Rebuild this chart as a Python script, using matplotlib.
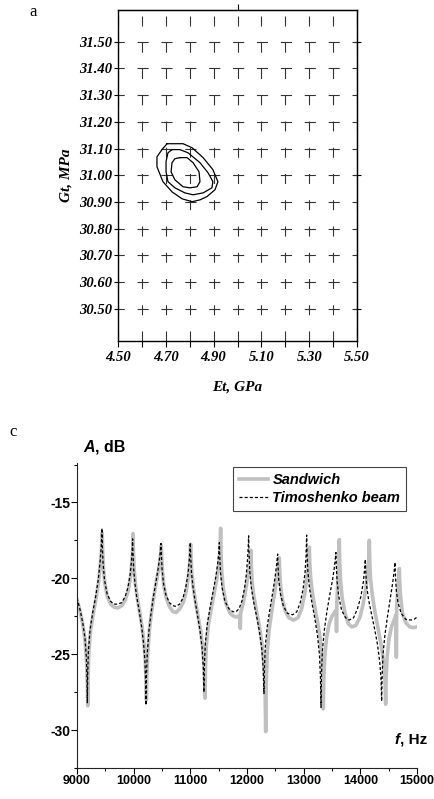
import numpy as np
import matplotlib.pyplot as plt
from matplotlib import font_manager

plt.rcParams['lines.scale_dashes'] = False

# narrow sans for the spectrum panel, if the system has it
noms = {f.name for f in font_manager.fontManager.ttflist}
sans = 'Liberation Sans Narrow' if 'Liberation Sans Narrow' in noms else 'Liberation Sans'
serif = 'Liberation Serif'

# ---- panel a: confidence contours in the (Et, Gt) plane ----
et_ticks = [4.50, 4.70, 4.90, 5.10, 5.30, 5.50]
et_minor = [4.60, 4.80, 5.00, 5.20, 5.40]
gt_ticks = [30.50, 30.60, 30.70, 30.80, 30.90, 31.00, 31.10, 31.20, 31.30, 31.40, 31.50]

ext_et = [4.705, 4.772, 4.810, 4.856, 4.897, 4.918, 4.906, 4.872, 4.843, 4.810,
          4.768, 4.726, 4.688, 4.663, 4.663, 4.684]
ext_gt = [31.118, 31.118, 31.103, 31.066, 31.021, 30.976, 30.946, 30.920, 30.908, 30.901,
          30.912, 30.938, 30.976, 31.032, 31.069, 31.096]

mig_et = [4.726, 4.759, 4.793, 4.843, 4.877, 4.897, 4.893, 4.856, 4.814, 4.780,
          4.738, 4.709, 4.701, 4.701, 4.709]
mig_gt = [31.096, 31.096, 31.084, 31.047, 31.009, 30.976, 30.953, 30.934, 30.927, 30.934,
          30.953, 30.976, 31.013, 31.051, 31.084]

int_et = [4.759, 4.789, 4.814, 4.839, 4.843, 4.831, 4.801, 4.772, 4.738, 4.722, 4.726, 4.738]
int_gt = [31.066, 31.066, 31.047, 31.013, 30.976, 30.957, 30.953, 30.957, 30.983, 31.013,
          31.047, 31.062]

# ---- panel c: frequency response ----
f_ticks = [9000, 10000, 11000, 12000, 13000, 14000, 15000]
A_ticks = [-30, -25, -20, -15]

f_tim = [9000, 9050, 9100, 9140, 9165, 9176, 9182,
         9188, 9200, 9230, 9280, 9330, 9375, 9405, 9425, 9435, 9441,
         9448, 9460, 9485, 9530, 9590, 9650, 9718, 9790, 9850, 9900, 9940, 9962, 9975, 9982,
         9988, 10000, 10025, 10053, 10100, 10141, 10175, 10198, 10210, 10218,
         10225, 10240, 10271, 10300, 10341, 10390, 10435, 10460, 10474, 10482,
         10489, 10500, 10525, 10570, 10630, 10690, 10747, 10810, 10870, 10920, 10960, 10982, 10993, 10999,
         11006, 11020, 11045, 11080, 11125, 11170, 11205, 11228, 11241,
         11250, 11265, 11300, 11350, 11400, 11450, 11485, 11502, 11512,
         11519, 11532, 11560, 11610, 11680, 11750, 11806, 11860, 11910, 11955, 11990, 12012, 12022, 12029,
         12036, 12050, 12080, 12120, 12170, 12220, 12260, 12285, 12300,
         12310, 12325, 12360, 12410, 12460, 12500, 12525, 12541,
         12548, 12560, 12590, 12640, 12710, 12805, 12880, 12940, 12990, 13025, 13042, 13053,
         13060, 13075, 13105, 13150, 13200, 13245, 13278, 13296, 13306,
         13315, 13330, 13365, 13410, 13460, 13510, 13545, 13570,
         13577, 13590, 13620, 13670, 13740, 13805, 13880, 13950, 14010, 14055, 14076, 14088,
         14096, 14112, 14145, 14195, 14250, 14305, 14345, 14366, 14376,
         14385, 14400, 14435, 14480, 14530, 14575, 14598, 14612,
         14620, 14635, 14665, 14720, 14800, 14894, 14950, 14985, 15000]
A_tim = [-21.3, -22.0, -22.9, -23.9, -25.2, -26.6, -28.2,
         -26.4, -24.9, -23.4, -22.2, -21.2, -20.1, -19.0, -18.1, -17.4, -16.7,
         -17.9, -19.0, -20.1, -21.0, -21.5, -21.7, -21.7, -21.6, -21.2, -20.6, -19.7, -18.8, -18.0, -17.4,
         -18.3, -19.4, -20.4, -21.2, -22.2, -23.2, -24.3, -25.4, -26.7, -28.35,
         -26.5, -25.0, -23.4, -22.5, -21.4, -20.3, -19.3, -18.6, -18.1, -17.7,
         -18.4, -19.3, -20.3, -21.1, -21.6, -21.8, -21.85, -21.7, -21.3, -20.6, -19.7, -18.8, -18.1, -17.65,
         -18.5, -19.6, -20.5, -21.4, -22.4, -23.4, -24.5, -25.8, -27.5,
         -25.6, -24.3, -23.0, -21.9, -20.9, -19.9, -19.0, -18.3, -17.65,
         -18.5, -19.6, -20.6, -21.5, -22.0, -22.2, -22.2, -22.0, -21.5, -20.7, -19.7, -18.6, -17.9, -17.2,
         -18.3, -19.6, -20.7, -21.6, -22.5, -23.5, -24.6, -25.9, -27.6,
         -25.7, -24.4, -23.1, -21.9, -20.8, -19.8, -19.0, -18.4,
         -19.2, -20.1, -21.0, -21.8, -22.3, -22.4, -22.2, -21.6, -20.7, -19.6, -18.5, -17.15,
         -18.4, -19.6, -20.7, -21.7, -22.7, -23.8, -25.0, -26.5, -28.5,
         -26.3, -24.8, -23.4, -22.2, -21.1, -20.1, -19.2, -18.3,
         -19.2, -20.2, -21.2, -22.1, -22.6, -22.75, -22.6, -22.0, -21.2, -20.2, -19.4, -18.75,
         -19.6, -20.5, -21.4, -22.3, -23.3, -24.4, -25.6, -26.7, -28.1,
         -26.4, -25.0, -23.7, -22.5, -21.3, -20.2, -19.5, -18.95,
         -19.8, -20.8, -21.6, -22.3, -22.7, -22.75, -22.7, -22.6, -22.5]

f_sand = [9000, 9050, 9100, 9140, 9168, 9182, 9190,
          9196, 9208, 9238, 9288, 9338, 9382, 9412, 9432, 9445,
          9452, 9465, 9490, 9535, 9595, 9655, 9720, 9795, 9855, 9905, 9945, 9968, 9982, 9990,
          9996, 10008, 10032, 10060, 10105, 10148, 10182, 10205, 10217, 10225,
          10232, 10247, 10278, 10306, 10347, 10396, 10441, 10466, 10480, 10488,
          10495, 10507, 10532, 10576, 10636, 10695, 10750, 10815, 10875, 10925, 10965, 10988, 10999, 11005,
          11012, 11027, 11053, 11090, 11137, 11183, 11220, 11245, 11260,
          11268, 11283, 11318, 11368, 11420, 11470, 11505, 11523, 11535,
          11542, 11555, 11582, 11632, 11700, 11765, 11810, 11855, 11876, 11882, 11888, 11930, 11975,
          12010, 12040, 12060, 12070,
          12077, 12090, 12118, 12160, 12210, 12260, 12298, 12318, 12330,
          12340, 12355, 12390, 12440, 12490, 12530, 12555, 12570,
          12577, 12590, 12620, 12670, 12740, 12820, 12900, 12965, 13020, 13060, 13085, 13100,
          13107, 13122, 13152, 13197, 13247, 13292, 13322, 13338, 13347,
          13356, 13372, 13405, 13450, 13500, 13550, 13574, 13580, 13586, 13603, 13618, 13629,
          13636, 13650, 13680, 13730, 13790, 13850, 13920, 13990, 14050, 14100, 14130, 14148, 14159,
          14167, 14182, 14215, 14262, 14318, 14372, 14412, 14435, 14447,
          14456, 14472, 14505, 14550, 14600, 14630, 14636, 14642, 14660, 14677, 14688,
          14696, 14712, 14745, 14800, 14870, 14940, 15000]
A_sand = [-21.4, -22.1, -23.0, -24.0, -25.4, -26.9, -28.4,
          -26.6, -25.0, -23.5, -22.3, -21.3, -20.2, -19.1, -18.2, -17.0,
          -18.1, -19.2, -20.3, -21.2, -21.7, -21.9, -21.95, -21.8, -21.4, -20.8, -19.9, -19.0, -18.1, -17.05,
          -18.2, -19.4, -20.4, -21.2, -22.2, -23.2, -24.3, -25.4, -26.6, -28.0,
          -26.5, -25.0, -23.4, -22.5, -21.4, -20.3, -19.4, -18.7, -18.3, -17.85,
          -18.6, -19.5, -20.5, -21.3, -21.9, -22.2, -22.25, -22.0, -21.6, -20.9, -19.9, -19.0, -18.3, -17.75,
          -18.6, -19.7, -20.6, -21.5, -22.5, -23.5, -24.6, -25.9, -27.9,
          -25.8, -24.4, -23.1, -22.0, -21.0, -20.0, -19.0, -18.0, -16.7,
          -18.4, -19.6, -20.7, -21.7, -22.3, -22.5, -22.55, -22.5, -22.4, -23.3, -22.3, -21.7, -20.8,
          -20.0, -19.3, -18.8, -18.15,
          -19.2, -20.2, -21.1, -22.0, -23.0, -24.2, -25.5, -27.0, -30.1,
          -27.0, -25.0, -23.4, -22.1, -20.9, -19.9, -19.2, -18.65,
          -19.5, -20.4, -21.3, -22.1, -22.6, -22.75, -22.6, -22.0, -21.0, -19.9, -18.9, -17.95,
          -18.9, -19.9, -20.9, -21.9, -22.9, -24.0, -25.2, -26.6, -28.6,
          -26.6, -25.2, -23.9, -23.0, -22.5, -22.2, -22.1, -23.5, -21.6, -20.2, -18.9, -17.45,
          -18.9, -20.1, -21.3, -22.3, -23.0, -23.2, -23.1, -22.6, -21.7, -20.6, -19.6, -18.7, -17.5,
          -19.0, -20.1, -21.2, -22.3, -23.4, -24.5, -25.6, -26.7, -28.3,
          -26.5, -25.2, -24.0, -23.2, -22.7, -22.4, -25.2, -21.8, -20.8, -20.0, -19.35,
          -20.3, -21.3, -22.3, -22.9, -23.2, -23.25, -23.2]

fig = plt.figure(figsize=(4.34, 7.99), dpi=100)

# ---------- a ----------
ax1 = fig.add_axes([0.2719, 0.5732, 0.5507, 0.4149])
ax1.set_xlim(4.5, 5.5)
ax1.set_ylim(30.38, 31.62)

for cx, cy in [(ext_et, ext_gt), (mig_et, mig_gt), (int_et, int_gt)]:
    ax1.plot(np.append(cx, cx[0]), np.append(cy, cy[0]), color='black', lw=0.9)

ax1.set_xticks(et_ticks)
ax1.set_xticks(et_minor, minor=True)
ax1.set_yticks(gt_ticks)
ax1.set_xticklabels(['%.2f' % v for v in et_ticks])
ax1.set_yticklabels(['%.2f' % v for v in gt_ticks])

# dashed grid, dash lengths in points (1 px = 0.72 pt)
ax1.xaxis.grid(True, which='both', color='#333333', lw=0.8, linestyle=(0, (7.2, 11.7)))
ax1.yaxis.grid(True, which='major', color='#333333', lw=0.8, linestyle=(3.5, (8.0, 9.2)))
ax1.set_axisbelow(True)

ax1.tick_params(axis='y', direction='out', length=3, width=0.8, pad=1)
ax1.tick_params(axis='x', which='both', direction='out', length=4, width=0.8, pad=3)
for lab in ax1.get_xticklabels() + ax1.get_yticklabels():
    lab.set_family(serif)
    lab.set_fontweight('bold')
    lab.set_fontstyle('italic')
    lab.set_fontsize(10.5)
for sp in ax1.spines.values():
    sp.set_linewidth(1.0)

top = ax1.secondary_xaxis('top')
top.set_xticks([5.0])
top.set_xticklabels([])
top.tick_params(direction='out', length=4, width=0.8)
dreta = ax1.secondary_yaxis('right')
dreta.set_yticks([30.5, 31.0, 31.5])
dreta.set_yticklabels([])
dreta.tick_params(direction='inout', length=6, width=0.8)

ax1.set_xlabel('Et, GPa', family=serif, fontweight='bold', fontstyle='italic',
               fontsize=11, labelpad=12)
ax1.set_ylabel('Gt, MPa', family=serif, fontweight='bold', fontstyle='italic',
               fontsize=11, labelpad=5)
fig.text(0.076, 0.985, 'a', family=serif, fontsize=12, ha='center', va='center')

# ---------- c ----------
ax2 = fig.add_axes([0.1774, 0.0388, 0.7834, 0.3817])
ax2.plot(f_sand, A_sand, color='#c0c0c0', lw=2.6, label='Sandwich')
ax2.plot(f_tim, A_tim, color='black', lw=0.9, linestyle=(0, (2.2, 1.5)),
         label='Timoshenko beam')
ax2.set_xlim(9000, 15000)
ax2.set_ylim(-32.5, -12.4)
ax2.spines['top'].set_visible(False)
ax2.spines['right'].set_visible(False)
ax2.spines['left'].set_color('#222222')
ax2.spines['bottom'].set_color('#222222')

ax2.set_xticks(f_ticks)
ax2.set_xticks(np.arange(9500, 15000, 1000), minor=True)
ax2.set_yticks(A_ticks)
ax2.set_yticks([-32.5, -27.5, -22.5, -17.5, -12.5], minor=True)
ax2.set_xticklabels([str(v) for v in f_ticks])
ax2.set_yticklabels([str(v) for v in A_ticks])
ax2.tick_params(which='major', direction='out', length=4, width=0.8, pad=1)
ax2.tick_params(which='minor', direction='out', length=2.5, width=0.8)
for lab in ax2.get_xticklabels() + ax2.get_yticklabels():
    lab.set_family(sans)
    lab.set_fontweight('bold')
    lab.set_fontsize(9)
for lab in ax2.get_yticklabels():
    lab.set_fontsize(10)

leg = ax2.legend(loc='upper right', bbox_to_anchor=(0.968, 0.987), borderaxespad=0,
                 fancybox=False, edgecolor='#444444', framealpha=1, handlelength=2.0,
                 handletextpad=0.3, borderpad=0.4, labelspacing=0.3,
                 prop={'family': sans, 'weight': 'bold', 'style': 'italic', 'size': 10.5})
leg.get_frame().set_linewidth(0.8)

ta = ax2.text(0.018, 1.052, 'A', transform=ax2.transAxes, family=sans, fontweight='bold',
              fontstyle='italic', fontsize=11.5, va='center', ha='left')
ax2.annotate(', dB', xy=(1, 0), xycoords=ta, va='bottom', ha='left',
             family=sans, fontweight='bold', fontsize=11.5)
tf = ax2.text(0.935, 0.092, 'f', transform=ax2.transAxes, family=sans, fontweight='bold',
              fontstyle='italic', fontsize=11, va='center', ha='left')
ax2.annotate(', Hz', xy=(1, 0), xycoords=tf, va='bottom', ha='left',
             family=sans, fontweight='bold', fontsize=11)
fig.text(0.03, 0.459, 'c', family=serif, fontsize=12, ha='center', va='center')

fig.savefig('out.png', dpi=100)
